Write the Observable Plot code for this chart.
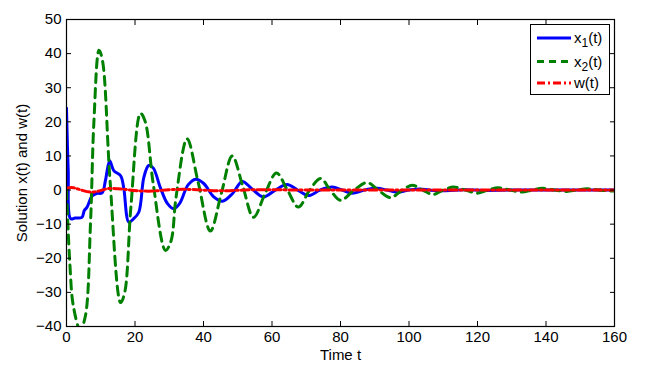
<!DOCTYPE html>
<html>
<head>
<meta charset="utf-8">
<script src="https://cdn.jsdelivr.net/npm/d3@7"></script>
<script src="https://cdn.jsdelivr.net/npm/@observablehq/plot@0.6"></script>
<style>
  body { margin: 0; background: white; }
  #wrap { position: relative; width: 663px; height: 368px; }
  #legend { position: absolute; left: 0; top: 0; }
</style>
</head>
<body>
<div id="wrap"></div>
<script>
// x1(t) – solid blue
const t1 = [0, 0.5, 1.2, 2.5, 4.5, 5.2, 6, 7.5, 8.8, 10.4, 11.4, 12.6, 13.8, 15.8, 16.7, 18.2, 19.5, 21.1, 22.6, 24, 25.3, 27.4, 29.5, 31.3, 33, 35.5, 37.7, 40, 43, 45.5, 48.5, 51.3, 54, 57.5, 61, 64.4, 67.5, 70.7, 74, 77.6, 80.5, 83.4, 87, 90.7, 93.5, 96.5, 100, 103, 106, 110, 116, 122, 130, 145, 160];
const x1 = [24, 6, -8.4, -8.2, -8, -6, -5, -1.7, -1, -0.8, 3, 8.6, 5.7, 4.2, 0.7, -9.4, -8.5, -6.5, 3.8, 7.2, 6.5, 0.7, -4, -5.5, -4, 1.5, 3.2, 2, -2, -3.3, -1, 2.5, 0.5, -2, 0, 1.6, 0, -1.6, 0, 0.9, 0, -0.9, 0, 0.5, 0, -0.6, 0, 0.3, 0, -0.2, 0.1, -0.1, 0, 0, 0];

// x2(t) – dashed green
const t2 = [0, 1, 2, 4, 5.5, 7, 8, 9.5, 10.5, 12.7, 15.8, 17, 18.8, 21.6, 23, 25.3, 28.9, 30.5, 32, 35.2, 38.5, 42, 45.2, 48.4, 51.5, 54.6, 58, 61.3, 64.5, 67.7, 71, 74.2, 77, 80, 84, 87.8, 91, 94.6, 98, 101, 104, 107, 110, 113, 116.5, 120, 123, 126, 129.5, 133, 136, 139, 142.5, 146, 149, 152, 155.5, 159, 160];
const x2 = [0, -22, -34, -41, -37, -10, 20, 41, 38, 3, -33, -30, -5, 22.5, 20, 2, -17.7, -15, -2, 15, 2, -12, -1, 10, 1, -8, -1, 5, 0, -5, 0, 3.4, 0, -3, 0, 2.2, 0, -2.2, 0, 1.4, 0, -1.3, 0, 0.9, 0, -0.9, 0, 0.7, 0, -0.6, 0, 0.5, 0, -0.4, 0, 0.35, 0, -0.3, -0.25];

// w(t) – dash-dot red
const tw = [0, 2, 4, 7, 9, 12, 15, 17, 20.6, 25, 30, 35, 45, 55, 70, 100, 160];
const w = [0.6, 0.7, 0.1, -0.6, -0.4, 0.4, 0.4, 0.2, -0.2, -0.3, 0.1, 0.2, -0.2, 0.1, 0, 0, 0];

const xTicks = [0, 20, 40, 60, 80, 100, 120, 140, 160];
const yTicks = [-40, -30, -20, -10, 0, 10, 20, 30, 40, 50];

const seriesNames = ["x1(t)", "x2(t)", "w(t)"];
const colors = ["#0000ff", "#008000", "#ff0000"];
const dashes = [null, "9,6", "8,3,2,3"];

const toRows = (ts, vs) => ts.map((t, i) => ({t, v: vs[i]}));
const rows = [toRows(t1, x1), toRows(t2, x2), toRows(tw, w)];

const plot = Plot.plot({
  width: 663,
  height: 368,
  marginLeft: 66,
  marginRight: 49,
  marginTop: 19,
  marginBottom: 42,
  x: {domain: [0, 160]},
  y: {domain: [-40, 50]},
  style: {fontFamily: "'Liberation Sans', Arial, sans-serif", fontSize: "15px", color: "black", background: "white"},
  marks: [
    ...rows.map((r, i) => Plot.line(r, {
      x: "t", y: "v", stroke: colors[i], strokeWidth: 3,
      strokeDasharray: dashes[i], curve: "catmull-rom", clip: true
    })),
    Plot.frame({stroke: "black", strokeWidth: 1.2}),
    Plot.axisX({ticks: xTicks, tickSize: 0, tickPadding: 5, label: "Time t", labelAnchor: "center", labelArrow: "none", labelOffset: 33}),
    Plot.axisX({ticks: xTicks, anchor: "bottom", tickSize: -5, tickFormat: () => "", label: null}),
    Plot.axisX({ticks: xTicks, anchor: "top", tickSize: -5, tickFormat: () => "", label: null}),
    Plot.axisY({ticks: yTicks, tickSize: 0, tickPadding: 5, label: "Solution x(t) and w(t)", labelAnchor: "center", labelArrow: "none", labelOffset: 50}),
    Plot.axisY({ticks: yTicks, anchor: "left", tickSize: -5, tickFormat: () => "", label: null}),
    Plot.axisY({ticks: yTicks, anchor: "right", tickSize: -5, tickFormat: () => "", label: null})
  ]
});
document.getElementById("wrap").appendChild(plot);

// Legend overlay
const lg = d3.select("#wrap").append("svg")
  .attr("id", "legend").attr("width", 663).attr("height", 368)
  .style("font-family", "'Liberation Sans', Arial, sans-serif").style("font-size", "15px");
lg.append("rect").attr("x", 530.5).attr("y", 24.5).attr("width", 79).attr("height", 70)
  .attr("fill", "white").attr("stroke", "black").attr("stroke-width", 1);
const rowY = [38, 61.5, 83];
const labels = [["x", "1", "(t)"], ["x", "2", "(t)"], ["w(t)", "", ""]];
seriesNames.forEach((name, i) => {
  lg.append("line").attr("x1", 537).attr("x2", 571).attr("y1", rowY[i]).attr("y2", rowY[i])
    .attr("stroke", colors[i]).attr("stroke-width", 3).attr("stroke-dasharray", i === 1 ? "7,5" : dashes[i]);
  const t = lg.append("text").attr("x", 574).attr("y", rowY[i] + 5);
  t.append("tspan").text(labels[i][0]);
  if (labels[i][1]) {
    t.append("tspan").attr("dy", 4).style("font-size", "12px").text(labels[i][1]);
    t.append("tspan").attr("dy", -4).text(labels[i][2]);
  }
});
</script>
</body>
</html>
